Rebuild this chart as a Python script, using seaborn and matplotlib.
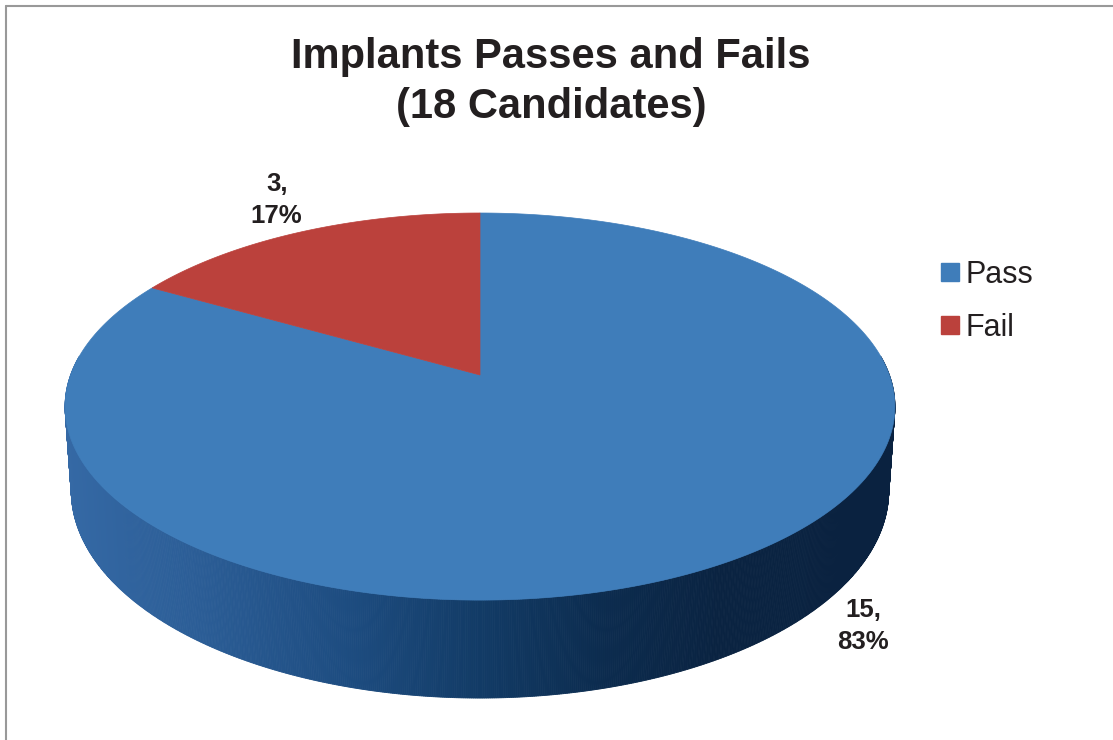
import numpy as np
import matplotlib
matplotlib.use('Agg')
import matplotlib.pyplot as plt
from matplotlib.colors import to_rgb
from matplotlib.lines import Line2D
import seaborn as sns

# Chart data
categories = ['Pass', 'Fail']
counts = [15, 3]
slice_colors = ['#3f7dba', '#bb413c']
chart_title = 'Implants Passes and Fails\n(18 Candidates)'

# 3D pie geometry, in pixels
CX, CY = 480, 375
RX, RY = 409.4, 188.4
PERSP = 0.163
DEPTH = 82
TAPER = 0.015

# side wall shading, left to right
wall_x = [65, 200, 350, 480, 600, 720, 900]
wall_cols = ['#3569a5', '#2b5d96', '#1d4c80', '#123b66', '#0c2c4f', '#0a2341', '#0a2240']


def project(phi, r=1.0, h=0.0):
    u = r * np.sin(phi)
    w = r * np.cos(phi)
    d = 1 + PERSP * w
    x = CX + RX * u * (1 - TAPER * h) / d
    y = CY - RY * w / d + DEPTH * h / d
    return x, y


def wall_color(x):
    rgb = np.array([to_rgb(c) for c in wall_cols])
    return tuple(np.interp(x, wall_x, rgb[:, k]) for k in range(3))


sns.set_theme(style='white')
plt.rcParams['font.family'] = ['Liberation Sans', 'DejaVu Sans']

fig = plt.figure(figsize=(11.13, 7.40), dpi=100)
ax = fig.add_axes([0, 0, 1, 1])
ax.set_xlim(0, 1113)
ax.set_ylim(740, 0)
ax.axis('off')

total = sum(counts)
edges = np.cumsum([0] + counts) / total * 2 * np.pi

# side wall, drawn back to front
phis = np.linspace(0, 2 * np.pi, 1441)
mids = (phis[:-1] + phis[1:]) / 2
order = np.argsort(-np.cos(mids))
for i in order:
    if np.cos(mids[i]) > 0.1:
        continue
    a, b = phis[i], phis[i + 1]
    x0, y0 = project(a)
    x1, y1 = project(b)
    x2, y2 = project(b, h=1)
    x3, y3 = project(a, h=1)
    c = wall_color((x0 + x1) / 2)
    ax.fill([x0, x1, x2, x3], [y0, y1, y2, y3], color=c, lw=0.6, ec=c)

# top face slices
ax_x, ax_y = project(0.0, r=0.0)
for k, cat in enumerate(categories):
    t = np.linspace(edges[k], edges[k + 1], 300)
    rx, ry = project(t)
    ax.fill(np.r_[ax_x, rx], np.r_[ax_y, ry], color=slice_colors[k], lw=0.5, ec=slice_colors[k])

# data labels
label_offsets = [(145, 61), (-24, -32)]
for k, v in enumerate(counts):
    mid = (edges[k] + edges[k + 1]) / 2
    lx, ly = project(mid)
    pct = round(100 * v / total)
    ax.text(lx + label_offsets[k][0], ly + label_offsets[k][1], f'{v},\n{pct}%',
            ha='center', va='center', fontsize=18.5, fontweight='bold',
            color='#231f20', linespacing=1.38)

# title
ax.text(551, 82, chart_title, ha='center', va='center', fontsize=30,
        fontweight='bold', color='#231f20', linespacing=1.32)

# legend
handles = [Line2D([], [], marker='s', ls='', color=c, markersize=12.3) for c in slice_colors]
ax.legend(handles, categories, loc='upper left', bbox_to_anchor=(941, 260),
          bbox_transform=ax.transData, frameon=False, fontsize=22,
          handlelength=0.6, handletextpad=0.2, labelspacing=0.75,
          borderpad=0, borderaxespad=0, labelcolor='#231f20')

# chart border
ax.plot([5.5, 1113], [5.5, 5.5], color='#999999', lw=1.5)
ax.plot([5.5, 5.5], [5.5, 740], color='#999999', lw=1.5)

fig.savefig('out.png', dpi=100)
